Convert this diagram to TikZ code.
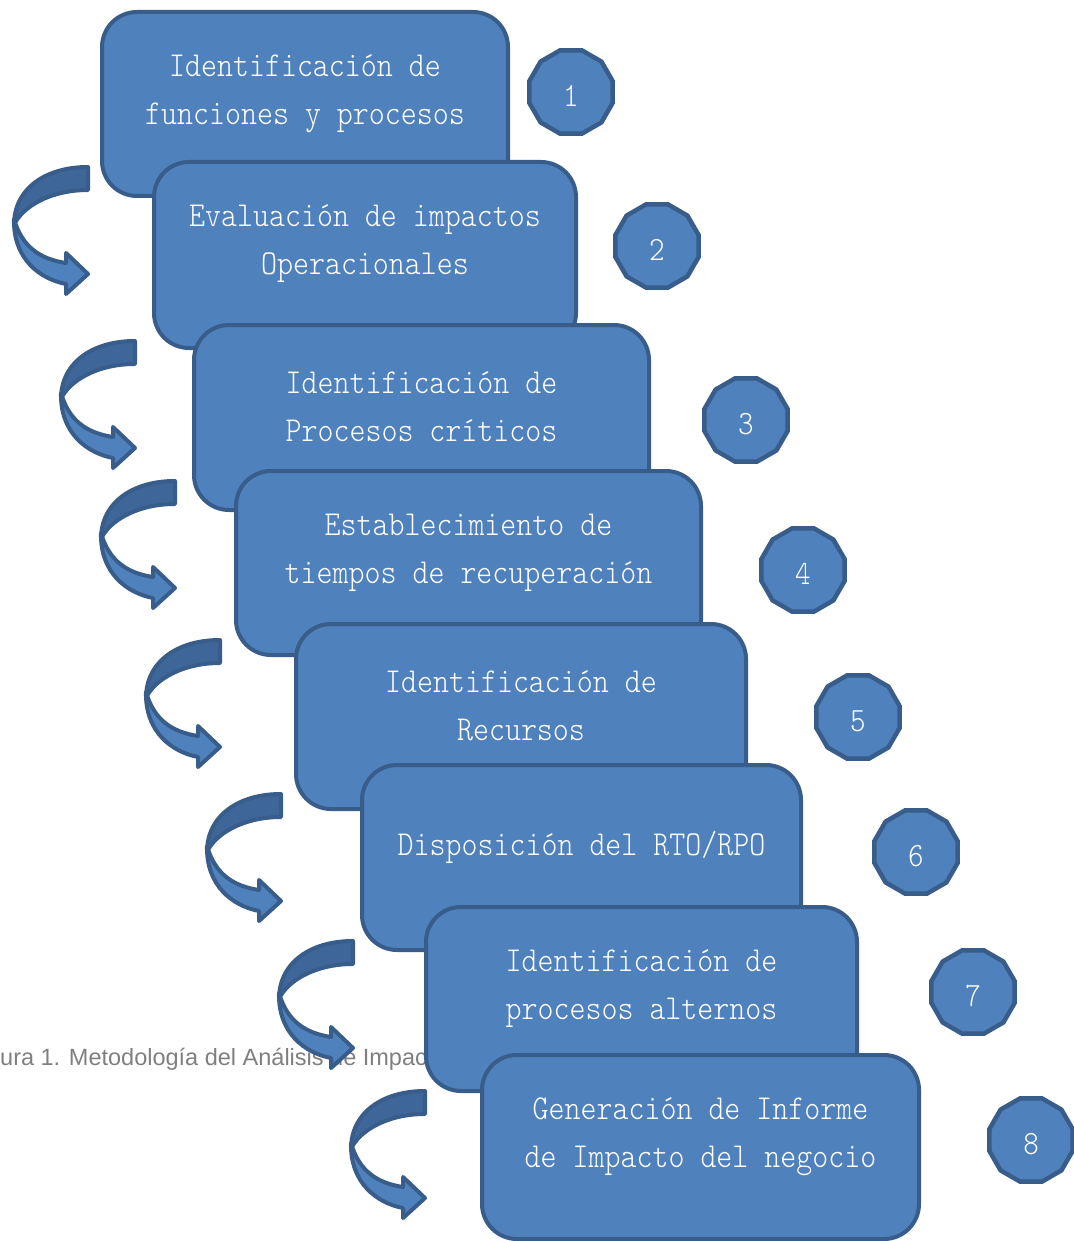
\documentclass[tikz,border=0pt]{standalone}
\usepackage{fontspec}
\usetikzlibrary{shapes.geometric}
\newfontfamily\boxfont{lmmonolt10-regular.otf}[FakeStretch=0.87]
\newfontfamily\capfont{Liberation Sans}
\definecolor{boxfill}{HTML}{4F81BD}
\definecolor{boxline}{HTML}{385D8A}
\definecolor{ribbondark}{HTML}{3F6698}
\definecolor{captext}{HTML}{7F7F7F}
\begin{document}
\begin{tikzpicture}[x=1pt,y=-1pt,
  stepbox/.style={rectangle, rounded corners=35pt, draw=boxline, fill=boxfill, line width=4pt, inner sep=0pt},
  boxtext/.style={text=white, font=\boxfont\fontsize{35}{48}\selectfont, align=center, inner sep=0pt},
  numshape/.style={regular polygon, regular polygon sides=12, minimum size=86pt, draw=boxline, fill=boxfill, line width=4.5pt, inner sep=0pt},
  numtext/.style={text=white, font=\boxfont\fontsize{34}{40}\selectfont, inner sep=0pt},
  ribbon/.style={draw=boxline, line width=4pt, line join=round},
  curvearrow/.pic={
    \draw[ribbon, fill=boxfill] (-74,52) .. controls (-75,92) and (-48,112) .. (-22,117) -- (-22,127) -- (0,107) -- (-22,86) -- (-22,96) .. controls (-48,92) and (-66,80) .. (-74,52) -- cycle;
    \draw[ribbon, fill=ribbondark] (0,0) .. controls (-43,0) and (-74,22) .. (-74,58) .. controls (-66,40) and (-38,23) .. (0,23) -- cycle;
  }]
\useasboundingbox (0,0) rectangle (1073,1241);
% caption (partly hidden)
\node[anchor=base west, inner sep=0pt, font=\capfont\fontsize{23.5}{28}\selectfont, text=captext] (cap) at (0,1065) {ura 1. Metodología del Análisis de Impac};
% boxes
\node[stepbox, minimum width=406pt, minimum height=184pt] (b1) at (305,104) {};
\node[boxtext] (t1) at (305,94) {Identificación de\\funciones y procesos};
\node[stepbox, minimum width=422pt, minimum height=186pt] (b2) at (365,255) {};
\node[boxtext] (t2) at (365,244) {Evaluación de impactos\\Operacionales};
\node[stepbox, minimum width=455pt, minimum height=185pt] (b3) at (421.5,417.5) {};
\node[boxtext] (t3) at (421.5,407) {Identificación de\\Procesos críticos};
\node[stepbox, minimum width=465pt, minimum height=184pt] (b4) at (468.5,563) {};
\node[boxtext] (t4) at (468.5,553) {Establecimiento de\\tiempos de recuperación};
\node[stepbox, minimum width=450pt, minimum height=185pt] (b5) at (521,716.5) {};
\node[boxtext] (t5) at (521,706) {Identificación de\\Recursos};
\node[stepbox, minimum width=439pt, minimum height=185pt] (b6) at (581.5,857.5) {};
\node[boxtext] (t6) at (581.5,847) {Disposición del RTO/RPO};
\node[stepbox, minimum width=431pt, minimum height=184pt] (b7) at (641.5,999) {};
\node[boxtext] (t7) at (641.5,989) {Identificación de\\procesos alternos};
\node[stepbox, minimum width=437pt, minimum height=184pt] (b8) at (700.5,1147) {};
\node[boxtext] (t8) at (700.5,1137) {Generación de Informe\\de Impacto del negocio};
% curved arrows
\pic (a1) at (88,167) {curvearrow};
\pic (a2) at (135,341) {curvearrow};
\pic (a3) at (175,481) {curvearrow};
\pic (a4) at (220,640) {curvearrow};
\pic (a5) at (281,794) {curvearrow};
\pic (a6) at (353,941) {curvearrow};
\pic (a7) at (425,1091) {curvearrow};
% numbers
\foreach \n/\x/\y in {1/571/92, 2/657/246, 3/746/420, 4/803/570, 5/858/717, 6/916/852, 7/973/992, 8/1031/1140}{
  \node[numshape] (n\n) at (\x,\y) {};
  \node[numtext] (l\n) at (\x,\y+4) {\n};
}
\end{tikzpicture}
\end{document}
